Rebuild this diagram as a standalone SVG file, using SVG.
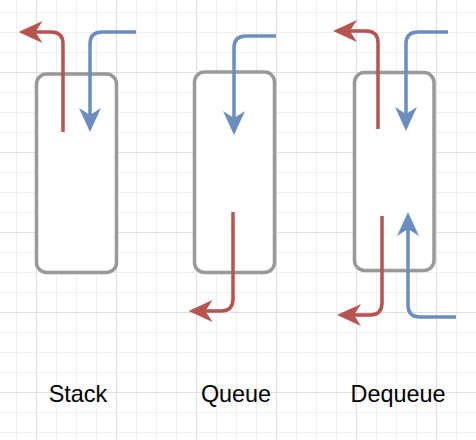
<svg xmlns="http://www.w3.org/2000/svg" width="476" height="440" viewBox="0 0 476 440">
  <style>
    .minor { stroke: #f0f0f0; stroke-width: 1; fill: none; }
    .major { stroke: #e0e0e0; stroke-width: 1; fill: none; }
    .box { fill: #ffffff; stroke: #999999; stroke-width: 3.5; }
    .red { fill: none; stroke: #b85450; stroke-width: 3.5; marker-end: url(#arrRed); }
    .blue { fill: none; stroke: #6c8ebf; stroke-width: 3.5; marker-end: url(#arrBlue); }
    .label { font-family: "Liberation Sans", Arial, Helvetica, sans-serif; font-size: 23.4px; fill: #000000; text-anchor: middle; }
  </style>
  <defs>
    <marker id="arrRed" markerUnits="userSpaceOnUse" viewBox="0 -11 24 22" refX="7" refY="0" markerWidth="24" markerHeight="22" orient="auto">
      <path d="M24,0 L0,-11 L7,0 L0,11 Z" fill="#b85450"/>
    </marker>
    <marker id="arrBlue" markerUnits="userSpaceOnUse" viewBox="0 -11 24 22" refX="7" refY="0" markerWidth="24" markerHeight="22" orient="auto">
      <path d="M24,0 L0,-11 L7,0 L0,11 Z" fill="#6c8ebf"/>
    </marker>
  </defs>
  <rect x="0" y="0" width="476" height="440" fill="#ffffff"/>
  <g id="grid">
    <path class="minor" d="M16.5,0V440M56.5,0V440M76.5,0V440M96.5,0V440M136.5,0V440M156.5,0V440M176.5,0V440M216.5,0V440M236.5,0V440M256.5,0V440M296.5,0V440M316.5,0V440M336.5,0V440M376.5,0V440M396.5,0V440M416.5,0V440M456.5,0V440M0,12.5H476M0,32.5H476M0,52.5H476M0,92.5H476M0,112.5H476M0,132.5H476M0,172.5H476M0,192.5H476M0,212.5H476M0,252.5H476M0,272.5H476M0,292.5H476M0,332.5H476M0,352.5H476M0,372.5H476M0,412.5H476M0,432.5H476"/>
    <path class="major" d="M36.5,0V440M116.5,0V440M196.5,0V440M276.5,0V440M356.5,0V440M436.5,0V440M0,72.5H476M0,152.5H476M0,232.5H476M0,312.5H476M0,392.5H476"/>
  </g>
  <g id="stack">
    <rect class="box" x="36.5" y="74" width="80" height="198.5" rx="10" ry="10"/>
    <text class="label" x="78" y="401.5">Stack</text>
  </g>
  <g id="queue">
    <rect class="box" x="194.5" y="72" width="80" height="200.5" rx="10" ry="10"/>
    <text class="label" x="236" y="401.5">Queue</text>
  </g>
  <g id="dequeue">
    <rect class="box" x="354.5" y="72.5" width="79.5" height="198" rx="10" ry="10"/>
    <text class="label" x="398" y="401.5">Dequeue</text>
  </g>
  <g id="connectors">
    <path class="red" d="M63,132 V44 Q63,32 51,32 H35.5"/>
    <path class="blue" d="M136,32 H102 Q90,32 90,44 V115"/>
    <path class="blue" d="M276,36 H246 Q234,36 234,48 V118"/>
    <path class="red" d="M233,212 V299 Q233,311 221,311 H205.5"/>
    <path class="red" d="M378,129 V43 Q378,31 366,31 H350"/>
    <path class="blue" d="M448,32 H418 Q406,32 406,44 V114"/>
    <path class="red" d="M382,216 V303 Q382,315 370,315 H354"/>
    <path class="blue" d="M456,317 H420 Q408,317 408,305 V229"/>
  </g>
</svg>
